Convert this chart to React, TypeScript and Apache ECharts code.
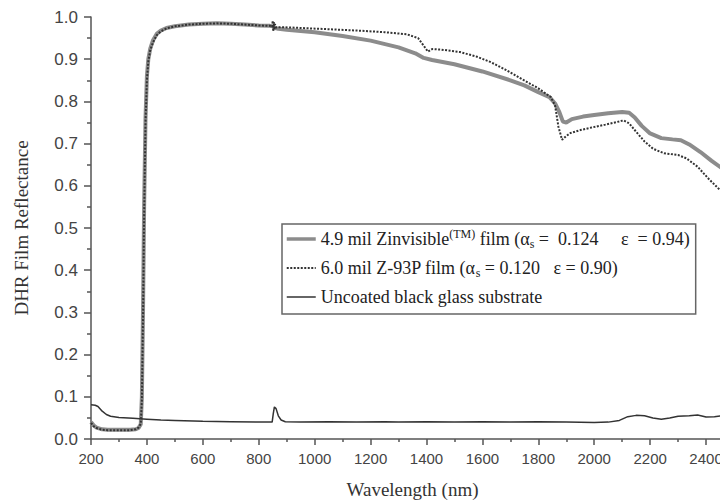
import React, { useEffect, useRef } from "react";
import * as echarts from "echarts";

// Zinvisible film (gray thick)
const zinWl = [200, 210, 220, 240, 260, 300, 340, 360, 370, 378, 382, 386, 390, 395, 400, 405, 412, 422, 435, 450, 470, 500, 550, 600, 650, 700, 750, 800, 840, 850, 855, 860, 870, 900, 1000, 1100, 1200, 1300, 1360, 1390, 1420, 1500, 1600, 1700, 1750, 1800, 1840, 1860, 1875, 1888, 1900, 1920, 1960, 2000, 2050, 2100, 2125, 2145, 2170, 2200, 2240, 2280, 2310, 2340, 2380, 2420, 2460, 2500];
const zinR = [0.040, 0.032, 0.027, 0.023, 0.022, 0.022, 0.022, 0.023, 0.026, 0.035, 0.10, 0.30, 0.55, 0.76, 0.86, 0.90, 0.925, 0.945, 0.960, 0.968, 0.974, 0.978, 0.982, 0.984, 0.985, 0.984, 0.982, 0.980, 0.979, 0.978, 0.976, 0.974, 0.972, 0.970, 0.964, 0.955, 0.944, 0.928, 0.914, 0.903, 0.898, 0.888, 0.871, 0.850, 0.838, 0.822, 0.810, 0.795, 0.775, 0.752, 0.750, 0.758, 0.764, 0.768, 0.772, 0.775, 0.773, 0.762, 0.742, 0.724, 0.713, 0.710, 0.708, 0.698, 0.680, 0.659, 0.640, 0.625];

// Z-93P film (dotted)
const z93Wl = [200, 210, 220, 240, 260, 300, 340, 360, 370, 378, 382, 386, 390, 395, 400, 405, 412, 422, 435, 450, 470, 500, 550, 600, 650, 700, 750, 800, 840, 848, 850, 852, 854, 856, 858, 862, 880, 950, 1050, 1150, 1250, 1330, 1370, 1390, 1405, 1420, 1450, 1520, 1580, 1630, 1680, 1730, 1800, 1845, 1860, 1872, 1885, 1900, 1915, 1950, 1990, 2040, 2080, 2105, 2125, 2150, 2180, 2210, 2250, 2300, 2330, 2370, 2410, 2450, 2500];
const z93R = [0.038, 0.030, 0.026, 0.022, 0.021, 0.021, 0.021, 0.023, 0.027, 0.036, 0.09, 0.28, 0.53, 0.75, 0.85, 0.895, 0.922, 0.940, 0.957, 0.966, 0.973, 0.978, 0.982, 0.984, 0.985, 0.984, 0.982, 0.980, 0.979, 0.976, 0.991, 0.966, 0.988, 0.970, 0.983, 0.975, 0.976, 0.974, 0.971, 0.968, 0.964, 0.959, 0.950, 0.932, 0.918, 0.924, 0.923, 0.917, 0.906, 0.893, 0.876, 0.857, 0.831, 0.810, 0.790, 0.740, 0.709, 0.718, 0.725, 0.732, 0.738, 0.745, 0.751, 0.755, 0.748, 0.728, 0.705, 0.688, 0.677, 0.673, 0.665, 0.645, 0.616, 0.590, 0.565];

// Uncoated black glass substrate
const glassWl = [200, 215, 225, 240, 255, 270, 300, 350, 400, 450, 500, 600, 700, 800, 848, 852, 856, 862, 870, 880, 895, 950, 1050, 1150, 1250, 1300, 1400, 1500, 1600, 1700, 1800, 1900, 2000, 2050, 2090, 2120, 2150, 2180, 2210, 2240, 2270, 2300, 2340, 2370, 2400, 2430, 2460, 2500];
const glassR = [0.081, 0.080, 0.077, 0.066, 0.058, 0.054, 0.051, 0.049, 0.047, 0.045, 0.044, 0.042, 0.041, 0.040, 0.040, 0.060, 0.076, 0.072, 0.055, 0.045, 0.041, 0.040, 0.041, 0.040, 0.041, 0.040, 0.041, 0.040, 0.041, 0.040, 0.041, 0.040, 0.039, 0.040, 0.044, 0.053, 0.056, 0.055, 0.050, 0.047, 0.050, 0.054, 0.055, 0.057, 0.052, 0.053, 0.055, 0.052];

const seriesNames = [
  "4.9 mil Zinvisible(TM) film",
  "6.0 mil Z-93P film",
  "Uncoated black glass substrate",
];
const legendRich = [
  "{t|4.9 mil Zinvisible}{sup|(TM)}{t| film (α}{sub|s}{t| =  0.124     ε  = 0.94)}",
  "{t|6.0 mil Z-93P film (α}{sub|s}{t| = 0.120   ε = 0.90)}",
  "{t|Uncoated black glass substrate}",
];

const xTitle = "Wavelength (nm)";
const yTitle = "DHR Film Reflectance";

const zip = (a: number[], b: number[]) => a.map((x, i) => [x, b[i]]);

export default function App() {
  const ref = useRef<HTMLDivElement>(null);
  useEffect(() => {
    if (!ref.current) return;
    const chart = echarts.init(ref.current, undefined, { renderer: "svg" });
    const serif = "Liberation Serif";
    const sans = "Liberation Sans";
    chart.setOption({
      animation: false,
      backgroundColor: "#fff",
      grid: { left: 91, right: 0, top: 17, bottom: 65 },
      legend: {
        orient: "vertical",
        left: 282,
        top: 224,
        padding: [4, 6, 8, 3],
        itemGap: 9,
        itemWidth: 29,
        itemHeight: 14,
        borderColor: "#666",
        borderWidth: 1.5,
        backgroundColor: "#fff",
        data: [
          { name: seriesNames[0], lineStyle: { width: 3.5, color: "#8c8c8c" } },
          { name: seriesNames[1], lineStyle: { width: 2, color: "#333", type: [2, 1.5] } },
          { name: seriesNames[2], lineStyle: { width: 1.5, color: "#333" } },
        ],
        itemStyle: { opacity: 0 },
        formatter: (name: string) => legendRich[seriesNames.indexOf(name)],
        textStyle: {
          rich: {
            t: { fontFamily: serif, fontSize: 18, color: "#222", lineHeight: 22, verticalAlign: "middle" },
            sup: { fontFamily: serif, fontSize: 12, color: "#222", lineHeight: 11, verticalAlign: "top" },
            sub: { fontFamily: serif, fontSize: 12, color: "#222", lineHeight: 11, verticalAlign: "bottom" },
          },
        },
      },
      xAxis: {
        type: "value",
        min: 200,
        max: 2500,
        interval: 200,
        name: xTitle,
        nameLocation: "middle",
        nameGap: 41,
        nameTextStyle: { fontFamily: serif, fontSize: 19, color: "#333" },
        axisLine: { lineStyle: { color: "#555", width: 1.5 } },
        axisTick: { length: 6, lineStyle: { color: "#555", width: 1.5 } },
        minorTick: { show: true, splitNumber: 2, length: 3, lineStyle: { color: "#555", width: 1.5 } },
        axisLabel: {
          margin: 12,
          fontFamily: sans,
          fontSize: 15,
          color: "#444",
          showMaxLabel: false,
          formatter: (v: number) => String(v),
        },
        splitLine: { show: false },
      },
      yAxis: {
        type: "value",
        min: 0,
        max: 1,
        interval: 0.1,
        name: yTitle,
        nameLocation: "middle",
        nameGap: 60,
        nameTextStyle: { fontFamily: serif, fontSize: 19, color: "#333" },
        axisLine: { show: true, lineStyle: { color: "#555", width: 1.5 } },
        axisTick: { show: true, length: 7, lineStyle: { color: "#555", width: 1.5 } },
        minorTick: { show: true, splitNumber: 2, length: 4, lineStyle: { color: "#555", width: 1.5 } },
        axisLabel: {
          margin: 13,
          fontFamily: sans,
          fontSize: 17,
          color: "#444",
          formatter: (v: number) => v.toFixed(1),
        },
        splitLine: { show: false },
      },
      series: [
        {
          name: seriesNames[0],
          type: "line",
          data: zip(zinWl, zinR),
          showSymbol: false,
          symbol: "none",
          lineStyle: { color: "#8c8c8c", width: 4 },
          itemStyle: { color: "#8c8c8c" },
          z: 1,
        },
        {
          name: seriesNames[1],
          type: "line",
          data: zip(z93Wl, z93R),
          showSymbol: false,
          symbol: "none",
          lineStyle: { color: "#333", width: 2, type: [2, 1.5] },
          itemStyle: { color: "#333" },
          z: 2,
        },
        {
          name: seriesNames[2],
          type: "line",
          data: zip(glassWl, glassR),
          showSymbol: false,
          symbol: "none",
          lineStyle: { color: "#333", width: 1.5 },
          itemStyle: { color: "#333" },
          z: 3,
        },
      ],
    });
    return () => chart.dispose();
  }, []);
  return (
    <div style={{ position: "fixed", left: 0, top: 0, width: 720, height: 504, overflow: "hidden", background: "#fff" }}>
      <div ref={ref} style={{ width: 734, height: 504 }} />
    </div>
  );
}
